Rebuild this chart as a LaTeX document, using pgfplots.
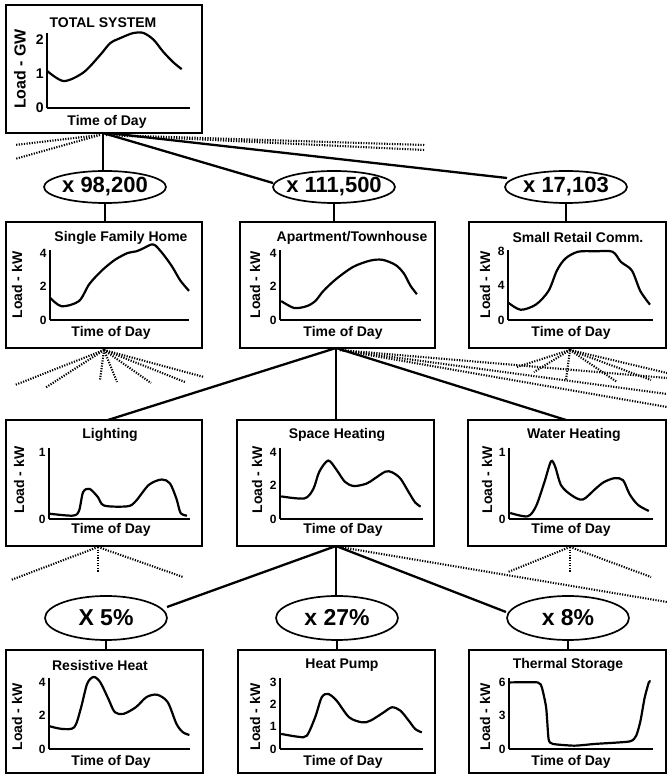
\documentclass[border=0pt]{standalone}
\usepackage{fontspec}
\setmainfont{Liberation Sans}
\usepackage{pgfplots}
\pgfplotsset{compat=1.18}
\newcommand{\fs}[1]{\fontsize{#1}{#1}\selectfont\bfseries}
\pgfplotsset{panel/.style={scale only axis, axis lines=left,
  axis line style={-, line width=1.8pt}, xmin=0, xmax=24, ymin=0,
  xtick=\empty, tick style={draw=none}, clip=false,
  /pgf/number format/assume math mode=true,
  yticklabel style={font=\fs{12}, inner sep=1pt}}}
\tikzset{dots/.style={line width=2.1pt, dash pattern=on 1.2pt off 1.4pt},
  solid line/.style={line width=2.3pt},
  box/.style={line width=2.6pt},
  crv/.style={black, line width=2.2pt, smooth, mark=none}}
\begin{document}
\begin{tikzpicture}[x=1pt,y=1pt]
\useasboundingbox (0,0) rectangle (667,777);
% ---------- connecting lines ----------
% total
\draw[solid line] (103,644)--(103,606);
\draw[solid line] (103,644)--(273,594);
\draw[solid line] (108,644)--(507,599);
\draw[dots] (100,642)--(15,632) (100,642)--(15,618);
\draw[dots] (106,642)--(425,627) (106,642)--(425,632);
\draw[solid line] (105,574)--(105,555) (334,574)--(334,555) (566,574)--(566,555);
% row 2 -> row 3
\draw[solid line] (336,429)--(108,357);
\draw[line width=1.5pt] (336,429)--(336,357);
\draw[solid line] (336,429)--(566,357);
\foreach \p in {(15,392),(45,389),(100,397),(117,395),(151,394),(185,395),(204,400)} \draw[dots] (104,427)--\p;
\foreach \p in {(667,399),(667,383),(667,370)} \draw[dots] (340,427)--\p;
\foreach \p in {(517,410),(534,405),(566,397),(617,395),(651,397),(667,404)} \draw[dots] (570,427)--\p;
% row 3 -> row 4
\draw[solid line] (336,231)--(167,170);
\draw[line width=1.5pt] (336,231)--(336,181);
\draw[solid line] (336,231)--(506,165);
\foreach \p in {(11,197),(98,205),(183,200)} \draw[dots] (98,230)--\p;
\draw[dots] (340,230)--(667,175);
\foreach \p in {(508,205),(570,205),(651,200)} \draw[dots] (570,230)--\p;
\draw[solid line] (106,137)--(106,127) (337,137)--(337,127) (568,137)--(568,127);
% ---------- ellipses ----------
\foreach \cx/\t in {105/{x 98,200},334/{x 111,500},566/{x 17,103}} {
  \draw[line width=1.7pt, fill=white] (\cx,590) ellipse [x radius=61, y radius=16];
  \node[font=\fs{22}] at (\cx,590) {\t};}
\foreach \cx/\t in {106/{X 5\%},337/{x 27\%},568/{x 8\%}} {
  \draw[line width=1.7pt, fill=white] (\cx,159) ellipse [x radius=61, y radius=22];
  \node[font=\fs{23}] at (\cx,159) {\t};}
% ---------- boxes ----------
\draw[box,fill=white] (6,772) rectangle (202,644);
\draw[box,fill=white] (6,555) rectangle (202,429);
\draw[box,fill=white] (240,555) rectangle (435,429);
\draw[box,fill=white] (469,555) rectangle (666,429);
\draw[box,fill=white] (6,357) rectangle (202,231);
\draw[box,fill=white] (237,357) rectangle (434,231);
\draw[box,fill=white] (468,357) rectangle (666,231);
\draw[box,fill=white] (6,127) rectangle (203,4);
\draw[box,fill=white] (238,127) rectangle (435,4);
\draw[box,fill=white] (469,127) rectangle (666,4);
% ---------- titles and labels ----------
\node[font=\fs{14}] at (103,754) {TOTAL SYSTEM};
\node[font=\fs{14}] at (107,655) {Time of Day};
\node[font=\fs{16}, rotate=90] at (20,708) {Load - GW};
\foreach \x/\t in {121/{Single Family Home},352/{Apartment/Townhouse},578/{Small Retail Comm.}} \node[font=\fs{14}] at (\x,539) {\t};
\foreach \x/\t in {110/{Lighting},337/{Space Heating},574/{Water Heating}} \node[font=\fs{14}] at (\x,342) {\t};
\foreach \x/\t in {100/{Resistive Heat},342/{Heat Pump},568/{Thermal Storage}} \node[font=\fs{14}] at (\x,112) {\t};
\foreach \x in {111,343,571} {\node[font=\fs{14}] at (\x,444) {Time of Day};
  \node[font=\fs{14}] at (\x,247) {Time of Day};
  \node[font=\fs{14}] at (\x,15) {Time of Day};}
\foreach \x in {17,255,485} {\node[font=\fs{14}, rotate=90] at (\x,492) {Load - kW};
  \node[font=\fs{14}, rotate=90] at (\x+2,297) {Load - kW};
  \node[font=\fs{14}, rotate=90] at (\x,60) {Load - kW};}
% ---------- panels ----------
% Total system
\begin{axis}[panel, at={(47pt,669pt)}, anchor=south west, width=143pt, height=75pt,
  ymax=2.2, ytick={0,1,2}, yticklabel style={font=\fs{14}}]
\addplot[crv] coordinates {(0,1.09)(2.8,0.79)(6.1,1.04)(8.9,1.55)(10.6,1.9)(12.3,2.05)(14.5,2.2)(16.2,2.2)(17.9,2.0)(19.5,1.65)(21.2,1.34)(22.6,1.14)};
\end{axis}
% Single Family Home
\begin{axis}[panel, at={(50pt,457pt)}, anchor=south west, width=139pt, height=70pt,
  ymax=4.18, ytick={0,2,4}]
\addplot[crv] coordinates {(0,1.33)(2.0,0.82)(5.0,1.13)(6.8,2.15)(9.0,2.97)(11.2,3.59)(13.4,4.0)(14.9,4.1)(16.3,4.31)(17.4,4.5)(18.2,4.45)(19.6,3.9)(21.1,3.18)(22.5,2.36)(24,1.74)};
\end{axis}
% Apartment/Townhouse
\begin{axis}[panel, at={(280pt,457pt)}, anchor=south west, width=141pt, height=70pt,
  ymax=4.18, ytick={0,2,4}]
\addplot[crv] coordinates {(0.2,1.13)(2.4,0.72)(4.5,0.82)(6.0,1.13)(7.4,1.74)(9.6,2.46)(12.5,3.18)(15.4,3.55)(17.5,3.59)(19.7,3.28)(21.1,2.77)(22.2,2.05)(23.3,1.54)};
\end{axis}
% Small Retail Comm.
\begin{axis}[panel, at={(508pt,457pt)}, anchor=south west, width=145pt, height=70pt,
  ymax=8.2, ytick={0,4,8}]
\addplot[crv] coordinates {(0.1,2.0)(2.1,1.2)(4.6,1.8)(6.7,3.4)(8.1,5.8)(9.5,7.2)(11.6,8.0)(14.5,8.05)(17.3,8.0)(18.7,6.8)(20.5,5.8)(21.9,3.4)(23.5,1.8)};
\end{axis}
% Lighting
\begin{axis}[panel, at={(49pt,258pt)}, anchor=south west, width=141pt, height=71pt,
  ymax=1.06, ytick={0,1}]
\addplot[crv] coordinates {(0,0.08)(4.0,0.05)(5.1,0.12)(5.8,0.40)(6.9,0.45)(8.3,0.33)(9.4,0.20)(13.4,0.19)(14.8,0.27)(17.0,0.51)(19.2,0.59)(20.6,0.53)(21.7,0.30)(22.4,0.09)(23.5,0.05)};
\end{axis}
% Space Heating
\begin{axis}[panel, at={(280pt,258pt)}, anchor=south west, width=143pt, height=71pt,
  ymax=4.24, ytick={0,2,4}]
\addplot[crv] coordinates {(0.2,1.35)(4.1,1.23)(5.6,1.8)(6.6,2.83)(8.1,3.49)(9.5,2.93)(10.9,2.22)(12.4,1.97)(14.5,2.11)(15.9,2.42)(17.7,2.83)(18.8,2.79)(20.2,2.42)(21.6,1.6)(22.7,0.98)(23.6,0.74)};
\end{axis}
% Water Heating
\begin{axis}[panel, at={(509pt,258pt)}, anchor=south west, width=144pt, height=71pt,
  ymax=1.06, ytick={0,1}]
\addplot[crv] coordinates {(0.2,0.09)(3.1,0.04)(4.5,0.19)(5.9,0.55)(7.0,0.86)(7.7,0.78)(8.7,0.50)(10.5,0.35)(12.3,0.29)(14.4,0.45)(15.8,0.55)(17.6,0.61)(19.0,0.58)(20.1,0.37)(21.5,0.21)(23.3,0.12)};
\end{axis}
% Resistive Heat
\begin{axis}[panel, at={(49pt,28pt)}, anchor=south west, width=141pt, height=71pt,
  ymax=4.24, ytick={0,2,4}]
\addplot[crv] coordinates {(0.1,1.36)(2.2,1.2)(4.3,1.3)(5.4,2.4)(6.5,3.9)(7.6,4.3)(8.7,4.0)(10.1,3.0)(11.2,2.2)(12.7,2.1)(14.8,2.5)(16.6,3.1)(18.4,3.24)(20.2,2.8)(21.7,1.5)(22.8,1.0)(23.9,0.84)};
\end{axis}
% Heat Pump
\begin{axis}[panel, at={(280pt,28pt)}, anchor=south west, width=143pt, height=71pt,
  ymax=3.2, ytick={0,1,2,3}]
\addplot[crv] coordinates {(0.2,0.68)(3.1,0.55)(4.5,0.6)(5.9,1.43)(7.0,2.33)(8.1,2.48)(9.5,2.18)(11.6,1.43)(13.8,1.2)(15.2,1.28)(17.4,1.65)(18.8,1.88)(20.2,1.73)(21.6,1.28)(22.7,0.9)(23.8,0.75)};
\end{axis}
% Thermal Storage
\begin{axis}[panel, at={(509pt,28pt)}, anchor=south west, width=144pt, height=71pt,
  ymax=6.4, ytick={0,3,6}]
\addplot[crv, tension=0.35] coordinates {(0,6.0)(4.8,6.0)(5.5,5.5)(6.2,3.7)(6.6,0.9)(7.3,0.46)(10.9,0.3)(14.4,0.46)(20.1,0.68)(21.2,1.2)(21.9,2.5)(22.6,4.6)(23.3,6.0)(23.6,6.1)};
\end{axis}
\end{tikzpicture}
\end{document}
